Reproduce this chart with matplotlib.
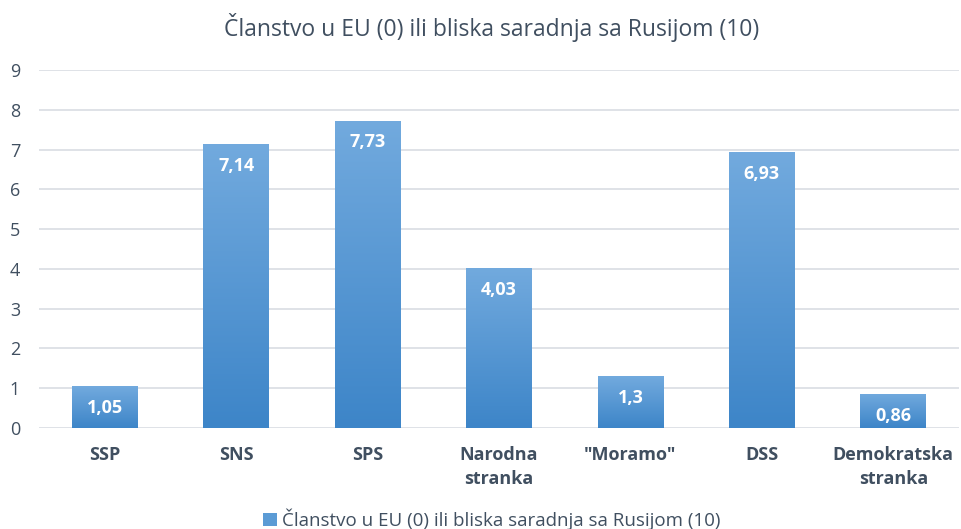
import numpy as np
import matplotlib.pyplot as plt
from matplotlib.colors import LinearSegmentedColormap
from matplotlib.patches import Patch

partije = ['SSP', 'SNS', 'SPS', 'Narodna\nstranka', '"Moramo"', 'DSS', 'Demokratska\nstranka']
vrednosti = [1.05, 7.14, 7.73, 4.03, 1.3, 6.93, 0.86]
oznake = ['1,05', '7,14', '7,73', '4,03', '1,3', '6,93', '0,86']
naslov = 'Članstvo u EU (0) ili bliska saradnja sa Rusijom (10)'

plt.rcParams['font.family'] = ['Open Sans', 'DejaVu Sans']
tekst = '#404f60'

fig = plt.figure(figsize=(9.61, 5.29), dpi=100)
ax = fig.add_axes([39/961, 101/529, 920/961, 358/529])

x = np.arange(len(partije))
bars = ax.bar(x, vrednosti, width=0.5, color='none', zorder=2)

# gradijent na stubovima
cmap = LinearSegmentedColormap.from_list('g', ['#3d85c8', '#72aade'])
grad = np.linspace(0, 1, 256).reshape(-1, 1)
for b in bars:
    x0, y0 = b.get_x(), b.get_y()
    w, h = b.get_width(), b.get_height()
    im = ax.imshow(grad, cmap=cmap, origin='lower', aspect='auto',
                   extent=[x0, x0 + w, y0, y0 + h], zorder=2)
    im.set_clip_path(b)

for xi, v, s in zip(x, vrednosti, oznake):
    ax.text(xi, v - 0.55, s, ha='center', va='center', color='white',
            fontsize=13, fontweight='bold', zorder=3)

ax.set_xlim(-0.5, len(partije) - 0.5)
ax.set_ylim(0, 9)
ax.set_yticks(range(0, 10))
ax.set_xticks(x)
ax.set_xticklabels(partije, fontsize=13, fontweight='bold', color=tekst, linespacing=1.45)
ax.tick_params(axis='y', labelsize=13, labelcolor=tekst, length=0, pad=21)
ax.tick_params(axis='x', length=0, pad=13)
for lbl in ax.get_yticklabels():
    lbl.set_horizontalalignment('left')
ax.grid(axis='y', color='#d9dde3', linewidth=1.2, zorder=0)
ax.set_axisbelow(True)
for sp in ax.spines.values():
    sp.set_visible(False)

fig.text(492/961, 1 - 28/529, naslov, ha='center', va='center', fontsize=16.5, color=tekst)
fig.legend(handles=[Patch(facecolor='#5b9bd5', label=naslov)], loc='center',
           bbox_to_anchor=(492/961, 1 - 519/529), frameon=False, fontsize=13.5,
           labelcolor=tekst, handlelength=0.7, handleheight=0.7, handletextpad=0.3)

fig.savefig('out.png', dpi=100)
